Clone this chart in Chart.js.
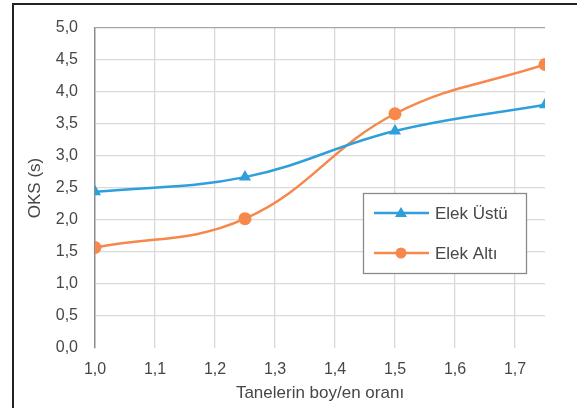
<!DOCTYPE html>
<html>
<head>
<meta charset="utf-8">
<script src="https://cdn.jsdelivr.net/npm/chart.js@4"></script>
<style>
  html, body { margin: 0; padding: 0; background: #fff; overflow: hidden; }
  #wrap { position: relative; width: 577px; height: 408px; }
  #frame { position: absolute; left: 12px; top: 3px; width: 700px; height: 500px; border: 2px solid #222; box-sizing: border-box; pointer-events: none; }
  canvas { position: absolute; left: 0; top: 0; }
</style>
</head>
<body>
<div id="wrap">
  <canvas id="c" width="577" height="408"></canvas>
  <div id="frame"></div>
</div>
<script>
const xValues = [1.0, 1.25, 1.5, 1.75];
const elekUstu = [2.44, 2.67, 3.39, 3.8];
const elekAlti = [1.57, 2.02, 3.66, 4.43];
const seriesNames = ['Elek Üstü', 'Elek Altı'];
const xTickValues = [1.0, 1.1, 1.2, 1.3, 1.4, 1.5, 1.6, 1.7];
const yTickValues = [0, 0.5, 1, 1.5, 2, 2.5, 3, 3.5, 4, 4.5, 5];
const xTitle = 'Tanelerin boy/en oranı';
const yTitle = 'OKS (s)';

const BLUE = '#2e9fda';
const ORANGE = '#f5884a';
const TXT = '#474747';
const FONT = "'Liberation Sans', Arial, sans-serif";
const fmt = v => Number(v).toFixed(1).replace('.', ',');

const legendPlugin = {
  id: 'insideLegend',
  afterDraw(chart) {
    const ctx = chart.ctx;
    const x0 = 363, y0 = 193, w = 163, h = 80;
    ctx.save();
    ctx.fillStyle = '#fff';
    ctx.fillRect(x0, y0, w, h);
    ctx.strokeStyle = '#8a8a8a';
    ctx.lineWidth = 1.3;
    ctx.strokeRect(x0 + 0.5, y0 + 0.5, w, h);
    const rows = [213, 253];
    chart.data.datasets.forEach((ds, i) => {
      const y = rows[i];
      ctx.strokeStyle = ds.borderColor;
      ctx.lineWidth = 2.5;
      ctx.beginPath(); ctx.moveTo(374, y); ctx.lineTo(429, y); ctx.stroke();
      ctx.fillStyle = ds.borderColor;
      ctx.beginPath();
      if (ds.pointStyle === 'triangle') {
        ctx.moveTo(401, y - 6); ctx.lineTo(407, y + 4); ctx.lineTo(395, y + 4); ctx.closePath();
      } else {
        ctx.arc(401, y, 5.5, 0, Math.PI * 2);
      }
      ctx.fill();
      ctx.fillStyle = TXT;
      ctx.font = '17px ' + FONT;
      ctx.textBaseline = 'middle';
      ctx.textAlign = 'left';
      ctx.fillText(ds.label, 435, y + 1);
    });
    ctx.restore();
  }
};

new Chart(document.getElementById('c'), {
  type: 'line',
  data: {
    datasets: [
      {
        label: seriesNames[0],
        data: xValues.map((x, i) => ({ x, y: elekUstu[i] })),
        borderColor: BLUE, backgroundColor: BLUE,
        borderWidth: 2.5, tension: 0.4,
        pointStyle: 'triangle', pointRadius: 7, pointHoverRadius: 7, pointBorderWidth: 0
      },
      {
        label: seriesNames[1],
        data: xValues.map((x, i) => ({ x, y: elekAlti[i] })),
        borderColor: ORANGE, backgroundColor: ORANGE,
        borderWidth: 2.5, tension: 0.4,
        pointStyle: 'circle', pointRadius: 6.5, pointHoverRadius: 6.5, pointBorderWidth: 0
      }
    ]
  },
  options: {
    responsive: false,
    animation: false,
    events: [],
    layout: { padding: { left: 25, right: 32, top: 28, bottom: 0 }, autoPadding: false },
    plugins: { legend: { display: false }, tooltip: { enabled: false } },
    scales: {
      x: {
        type: 'linear', min: 1.0, max: 1.75,
        afterBuildTicks: s => { s.ticks = xTickValues.map(v => ({ value: v })); },
        afterFit: s => { s.height = 60; },
        border: { display: false },
        grid: {
          color: ctx => (ctx.tick && Math.abs(ctx.tick.value - 1.0) < 1e-6) ? 'rgba(0,0,0,0)' : '#d9d9d9',
          lineWidth: 1.3,
          drawTicks: false
        },
        ticks: {
          padding: 12, color: TXT, font: { family: FONT, size: 16 },
          callback: v => fmt(v), maxRotation: 0, autoSkip: false
        },
        title: { display: true, text: xTitle, color: TXT, font: { family: FONT, size: 17 }, padding: { top: 2 } }
      },
      y: {
        min: 0, max: 5,
        afterBuildTicks: s => { s.ticks = yTickValues.map(v => ({ value: v })); },
        afterFit: s => { s.width = 70; },
        border: { display: true, color: '#8c8c8c', width: 1.5 },
        grid: {
          color: ctx => {
            if (!ctx.tick) return '#d9d9d9';
            if (ctx.tick.value === 0) return 'rgba(0,0,0,0)';
            if (ctx.tick.value === 5) return '#a6a6a6';
            return '#d9d9d9';
          },
          lineWidth: 1.3,
          drawTicks: false
        },
        ticks: {
          padding: 17, color: TXT, font: { family: FONT, size: 16 },
          callback: v => fmt(v)
        },
        title: { display: true, text: yTitle, color: TXT, font: { family: FONT, size: 17 }, padding: { top: 0, bottom: 0 } }
      }
    }
  },
  plugins: [legendPlugin]
});
</script>
</body>
</html>
